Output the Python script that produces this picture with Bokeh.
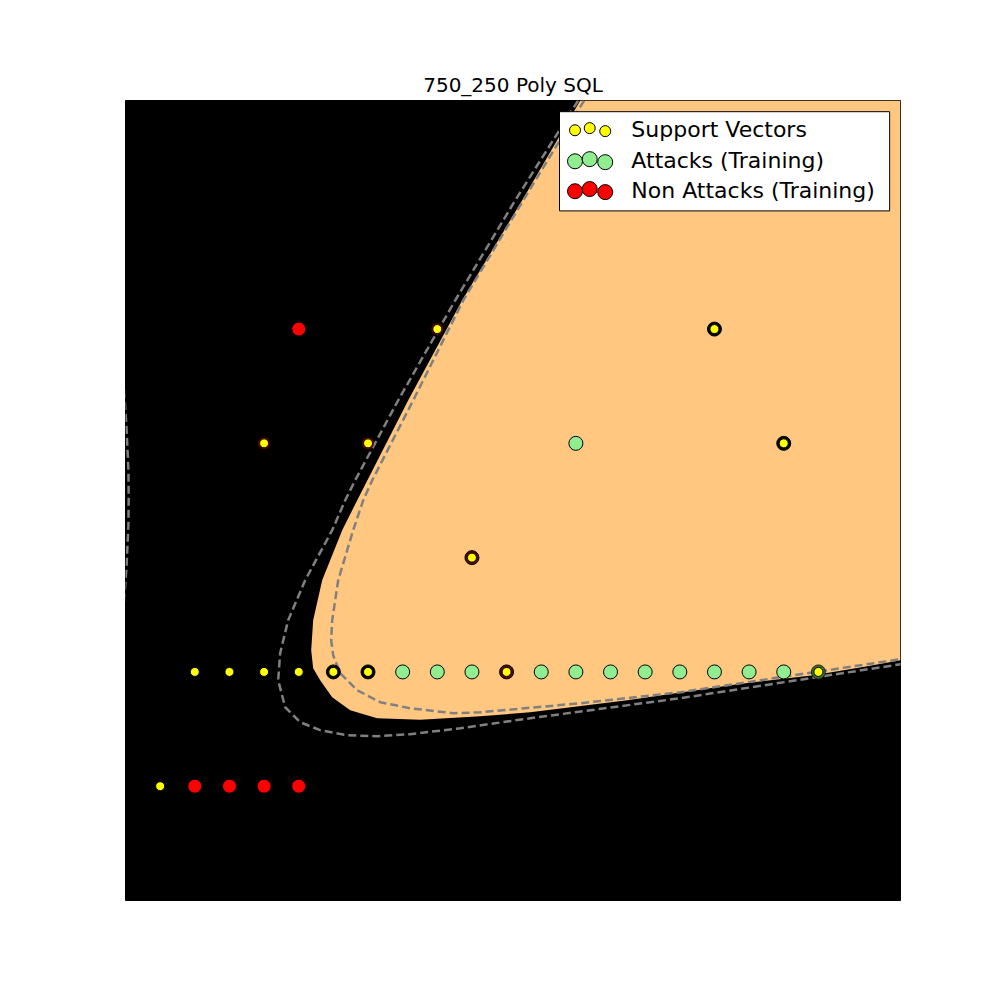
from bokeh.plotting import figure
from bokeh.models import Range1d, Label
from bokeh.embed import file_html
from bokeh.resources import INLINE

TITLE = "750_250 Poly SQL"

# ---- data (grid units: x = column index, y = row index) ----
x_lim = (0.0, 22.37)
y_lim = (0.0, 7.0)

# training points
attack_x = [8, 9, 10, 12, 13, 14, 15, 16, 17, 18, 19, 13]
attack_y = [2, 2, 2, 2, 2, 2, 2, 2, 2, 2, 2, 4]

nonattack_x = [2, 3, 4, 5, 5]
nonattack_y = [1, 1, 1, 1, 5]

# support vectors
sv_x = [1, 2, 3, 4, 5, 6, 7, 11, 20, 10, 4, 7, 19, 9, 17]
sv_y = [1, 2, 2, 2, 2, 2, 2, 2, 2, 3, 4, 4, 4, 5, 5]

# overlapping (dark-ringed) points under some support vectors
dark_x = [6, 7, 19, 17]
dark_y = [2, 2, 4, 5]
darkred_x = [11, 10]
darkred_y = [2, 3]
darkgreen_x = [20]
darkgreen_y = [2]
faint_x = [4, 7, 9]
faint_y = [4, 4, 5]

# decision region (class "attack") outline
region_x = [13.127, 11.452, 9.720, 8.161, 6.688, 6.255, 5.677, 5.417, 5.360, 5.417,
            5.619, 5.966, 6.486, 7.265, 8.507, 10.240, 11.683, 14.484, 17.661, 19.856,
            21.415, 22.37, 22.37]
region_y = [7.00, 6.127, 5.252, 4.377, 3.502, 3.240, 2.802, 2.452, 2.190, 2.032,
            1.927, 1.779, 1.665, 1.595, 1.582, 1.612, 1.647, 1.752, 1.892, 1.971,
            2.050, 2.102, 7.00]

# margin (-1) contour
margin_neg_x = [13.243, 13.070, 11.250, 9.518, 7.872, 6.630, 6.341, 5.966, 5.186, 4.695,
                4.464, 4.407, 4.609, 5.042, 5.619, 6.399, 7.265, 8.218, 9.662, 11.683,
                16.015, 22.37, 22.66]
margin_neg_y = [7.089, 7.002, 6.127, 5.252, 4.377, 3.677, 3.502, 3.240, 2.802, 2.452,
                2.164, 1.927, 1.691, 1.560, 1.490, 1.446, 1.437, 1.455, 1.507, 1.595,
                1.770, 2.067, 2.080]

# margin (+1) contour
margin_pos_x = [13.416, 13.243, 11.481, 9.749, 8.305, 7.121, 6.861, 6.572, 6.139, 5.966,
                5.937, 5.995, 6.197, 6.688, 7.352, 8.218, 9.460, 10.240, 13.127, 16.015,
                19.480, 22.37, 22.66]
margin_pos_y = [7.089, 7.002, 6.127, 5.252, 4.377, 3.677, 3.502, 3.240, 2.802, 2.452,
                2.277, 2.146, 1.989, 1.840, 1.735, 1.682, 1.639, 1.647, 1.726, 1.822,
                1.980, 2.111, 2.124]

# second branch of the margin contour at the left edge
margin_left_x = [-0.214, -0.040, 0.032, 0.084, 0.092, 0.084, 0.032, -0.040, -0.214]
margin_left_y = [4.990, 4.465, 4.115, 3.765, 3.528, 3.283, 2.934, 2.627, 2.102]

legend_labels = ["Support Vectors", "Attacks (Training)", "Non Attacks (Training)"]

# ---- colours ----
ORANGE = "#FFC77F"
GREEN = "#90EE90"
RED = "#FF0000"
YELLOW = "#FFFF00"
GRAY = "#808080"
FONT = "DejaVu Sans"

p = figure(width=1000, height=1000,
           x_range=Range1d(*x_lim), y_range=Range1d(*y_lim),
           x_axis_location=None, y_axis_location=None,
           output_backend="svg", toolbar_location=None,
           min_border_left=125, min_border_right=100,
           min_border_top=100, min_border_bottom=100,
           background_fill_color="black", border_fill_color="white",
           outline_line_color="black", outline_line_width=1,
           title=TITLE)
p.grid.visible = False
p.title.text_font = FONT
p.title.text_font_size = "20px"
p.title.text_font_style = "normal"
p.title.align = "center"
p.title.text_color = "black"
p.title.standoff = 7

# decision region
p.patch(region_x, region_y, fill_color=ORANGE, line_color=None)

# margins
for mx, my in [(margin_neg_x, margin_neg_y), (margin_pos_x, margin_pos_y),
               (margin_left_x, margin_left_y)]:
    p.line(mx, my, line_color=GRAY, line_width=2.5, line_dash="8 4")

# points
p.scatter(dark_x, dark_y, size=14, fill_color="black", line_color="black", line_width=1)
p.scatter(darkred_x, darkred_y, size=14, fill_color="#5c0808", line_color="black", line_width=1)
p.scatter(darkgreen_x, darkgreen_y, size=14, fill_color="#3e6a32", line_color="#1a2a14", line_width=1)
p.scatter(faint_x, faint_y, size=12, fill_color="#6a0000", line_color=None)
p.scatter(attack_x, attack_y, size=14, fill_color=GREEN, line_color="black", line_width=1)
p.scatter(nonattack_x, nonattack_y, size=14, fill_color=RED, line_color="black", line_width=1)
p.scatter(sv_x, sv_y, size=9, fill_color=YELLOW, line_color="black", line_width=1)

# ---- legend (upper right) built in plot space ----
xs, ys = x_lim[1] - x_lim[0], y_lim[1] - y_lim[0]
fx = lambda f: x_lim[0] + f * xs
fy = lambda f: y_lim[0] + f * ys

p.quad(left=[fx(0.560)], right=[fx(0.986)], bottom=[fy(0.862)], top=[fy(0.986)],
       fill_color="white", line_color="black", line_width=1)

mk_fx = [0.580, 0.599, 0.619]
mk_dy = [0.0, 0.0027, -0.0011]
row_fy = [0.9628, 0.9240, 0.8866]
styles = [(YELLOW, 11), (GREEN, 15), (RED, 15)]
for (col, sz), ry in zip(styles, row_fy):
    p.scatter([fx(f) for f in mk_fx], [fy(ry + d) for d in mk_dy],
              size=sz, fill_color=col, line_color="black", line_width=1)

text_fy = [0.9640, 0.9256, 0.8881]
for lab, ty in zip(legend_labels, text_fy):
    p.add_layout(Label(x=fx(0.6527), y=fy(ty), text=lab, text_font=FONT,
                       text_font_size="22px", text_baseline="alphabetic",
                       text_color="black"))

open("out.html", "w").write(file_html(p, INLINE))
